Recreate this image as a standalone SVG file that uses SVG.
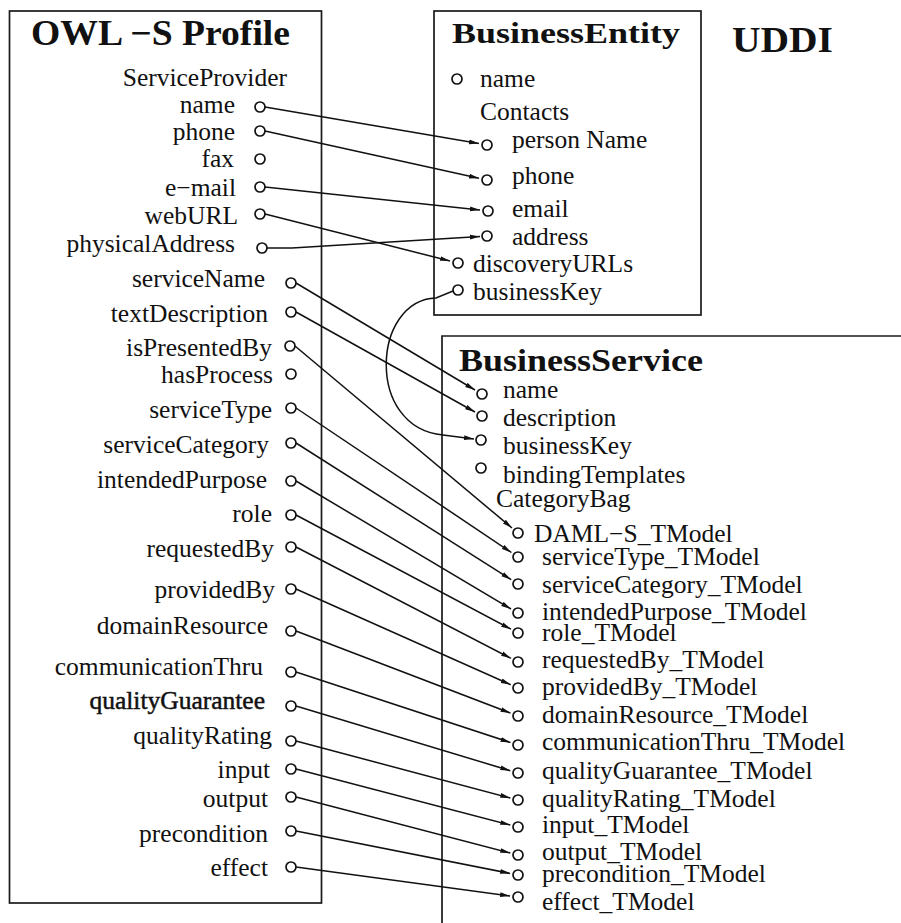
<svg xmlns="http://www.w3.org/2000/svg" width="901" height="923" viewBox="0 0 901 923">
  <style>
    .box { fill: none; stroke: #1a1a1a; stroke-width: 1.7; }
    .port { fill: #fff; stroke: #111; stroke-width: 1.7; }
    .lbl { font-family: "Liberation Serif", "Times New Roman", serif; font-size: 25.5px; fill: #111; }
    .end { text-anchor: end; }
    .title { font-family: "Liberation Serif", "Times New Roman", serif; font-weight: bold; fill: #111; }
    .link { fill: none; stroke: #111; stroke-width: 1.5; marker-end: url(#arrow); }
    .strong { stroke: #111; stroke-width: 0.5; }
  </style>
  <defs>
    <marker id="arrow" markerUnits="userSpaceOnUse" markerWidth="11" markerHeight="6" refX="10" refY="3" orient="auto">
      <path d="M0,0.6 L10,3 L0,5.4 z" fill="#111"/>
    </marker>
  </defs>
  <rect width="901" height="923" fill="#fff"/>

  <!-- OWL-S Profile -->
  <g id="owls-profile">
    <rect class="box" x="9.5" y="11" width="312" height="892"/>
    <text class="title" x="31" y="45" font-size="35" textLength="259" lengthAdjust="spacingAndGlyphs">OWL −S Profile</text>
    <text class="lbl end" x="287" y="86">ServiceProvider</text>
    <text class="lbl end" x="235" y="113">name</text>
    <text class="lbl end" x="235" y="140">phone</text>
    <text class="lbl end" x="234" y="167">fax</text>
    <text class="lbl end" x="236" y="196">e−mail</text>
    <text class="lbl end" x="238" y="224">webURL</text>
    <text class="lbl end" x="235" y="252">physicalAddress</text>
    <text class="lbl end" x="265" y="287">serviceName</text>
    <text class="lbl end" x="268" y="322">textDescription</text>
    <text class="lbl end" x="272" y="356">isPresentedBy</text>
    <text class="lbl end" x="273" y="383">hasProcess</text>
    <text class="lbl end" x="272" y="418">serviceType</text>
    <text class="lbl end" x="269" y="453">serviceCategory</text>
    <text class="lbl end" x="267" y="488">intendedPurpose</text>
    <text class="lbl end" x="272" y="522">role</text>
    <text class="lbl end" x="274" y="557">requestedBy</text>
    <text class="lbl end" x="275" y="598">providedBy</text>
    <text class="lbl end" x="268" y="634">domainResource</text>
    <text class="lbl end" x="263" y="675">communicationThru</text>
    <text class="lbl end strong" x="265" y="709">qualityGuarantee</text>
    <text class="lbl end" x="272" y="744">qualityRating</text>
    <text class="lbl end" x="270" y="778">input</text>
    <text class="lbl end" x="268" y="807">output</text>
    <text class="lbl end" x="268" y="842">precondition</text>
    <text class="lbl end" x="268" y="876">effect</text>
    <circle class="port" cx="260" cy="107" r="5"/>
    <circle class="port" cx="260" cy="131" r="5"/>
    <circle class="port" cx="260" cy="159" r="5"/>
    <circle class="port" cx="260" cy="187" r="5"/>
    <circle class="port" cx="260" cy="214" r="5"/>
    <circle class="port" cx="262" cy="248" r="5"/>
    <circle class="port" cx="291" cy="283" r="5"/>
    <circle class="port" cx="291" cy="312" r="5"/>
    <circle class="port" cx="290" cy="346" r="5"/>
    <circle class="port" cx="291" cy="374" r="5"/>
    <circle class="port" cx="291" cy="408" r="5"/>
    <circle class="port" cx="291" cy="443" r="5"/>
    <circle class="port" cx="291" cy="481" r="5"/>
    <circle class="port" cx="291" cy="515" r="5"/>
    <circle class="port" cx="291" cy="547" r="5"/>
    <circle class="port" cx="291" cy="589" r="5"/>
    <circle class="port" cx="291" cy="631" r="5"/>
    <circle class="port" cx="291" cy="672" r="5"/>
    <circle class="port" cx="291" cy="706" r="5"/>
    <circle class="port" cx="291" cy="741" r="5"/>
    <circle class="port" cx="291" cy="769" r="5"/>
    <circle class="port" cx="291" cy="797" r="5"/>
    <circle class="port" cx="291" cy="831" r="5"/>
    <circle class="port" cx="291" cy="867" r="5"/>
  </g>

  <!-- UDDI heading -->
  <g id="uddi-label">
    <text class="title" x="732" y="52" font-size="35" textLength="101" lengthAdjust="spacingAndGlyphs">UDDI</text>
  </g>

  <!-- BusinessEntity -->
  <g id="business-entity">
    <rect class="box" x="434" y="11" width="267" height="304"/>
    <text class="title" x="452" y="43" font-size="29" textLength="228" lengthAdjust="spacingAndGlyphs">BusinessEntity</text>
    <text class="lbl" x="480" y="87">name</text>
    <text class="lbl" x="480" y="120">Contacts</text>
    <text class="lbl" x="512" y="148">person Name</text>
    <text class="lbl" x="512" y="184">phone</text>
    <text class="lbl" x="512" y="217">email</text>
    <text class="lbl" x="512" y="245">address</text>
    <text class="lbl" x="473" y="272">discoveryURLs</text>
    <text class="lbl" x="473" y="300">businessKey</text>
    <circle class="port" cx="457" cy="79" r="5"/>
    <circle class="port" cx="487" cy="145" r="5"/>
    <circle class="port" cx="487" cy="180" r="5"/>
    <circle class="port" cx="488" cy="211" r="5"/>
    <circle class="port" cx="487" cy="236" r="5"/>
    <circle class="port" cx="458" cy="263" r="5"/>
    <circle class="port" cx="458" cy="290" r="5"/>
  </g>

  <!-- BusinessService (open to the right and bottom) -->
  <g id="business-service">
    <path class="box" d="M442,923 V336 H901"/>
    <text class="title" x="459" y="371" font-size="31" textLength="244" lengthAdjust="spacingAndGlyphs">BusinessService</text>
    <text class="lbl" x="503" y="398">name</text>
    <text class="lbl" x="503" y="426">description</text>
    <text class="lbl" x="503" y="454">businessKey</text>
    <text class="lbl" x="503" y="483">bindingTemplates</text>
    <text class="lbl" x="496" y="507">CategoryBag</text>
    <text class="lbl" x="534" y="542">DAML−S_TModel</text>
    <text class="lbl" x="542" y="565">serviceType_TModel</text>
    <text class="lbl" x="542" y="593">serviceCategory_TModel</text>
    <text class="lbl" x="542" y="620">intendedPurpose_TModel</text>
    <text class="lbl" x="542" y="641">role_TModel</text>
    <text class="lbl" x="542" y="668">requestedBy_TModel</text>
    <text class="lbl" x="542" y="695">providedBy_TModel</text>
    <text class="lbl" x="542" y="723">domainResource_TModel</text>
    <text class="lbl" x="542" y="750">communicationThru_TModel</text>
    <text class="lbl" x="542" y="779">qualityGuarantee_TModel</text>
    <text class="lbl" x="542" y="807">qualityRating_TModel</text>
    <text class="lbl" x="542" y="833">input_TModel</text>
    <text class="lbl" x="542" y="860">output_TModel</text>
    <text class="lbl" x="542" y="882">precondition_TModel</text>
    <text class="lbl" x="542" y="910">effect_TModel</text>
    <circle class="port" cx="482" cy="394" r="5"/>
    <circle class="port" cx="482" cy="416" r="5"/>
    <circle class="port" cx="481" cy="440" r="5"/>
    <circle class="port" cx="481" cy="468" r="5"/>
    <circle class="port" cx="518" cy="533" r="5"/>
    <circle class="port" cx="518" cy="557" r="5"/>
    <circle class="port" cx="518" cy="584" r="5"/>
    <circle class="port" cx="518" cy="613" r="5"/>
    <circle class="port" cx="518" cy="633" r="5"/>
    <circle class="port" cx="518" cy="662" r="5"/>
    <circle class="port" cx="518" cy="688" r="5"/>
    <circle class="port" cx="518" cy="716" r="5"/>
    <circle class="port" cx="518" cy="745" r="5"/>
    <circle class="port" cx="518" cy="773" r="5"/>
    <circle class="port" cx="518" cy="800" r="5"/>
    <circle class="port" cx="518" cy="827" r="5"/>
    <circle class="port" cx="518" cy="855" r="5"/>
    <circle class="port" cx="518" cy="875" r="5"/>
    <circle class="port" cx="518" cy="897" r="5"/>
  </g>

  <!-- mappings from profile properties to UDDI fields -->
  <g id="connectors">
    <path class="link" d="M265,107 L479,143.6"/>
    <path class="link" d="M265,131 L479,178.3"/>
    <path class="link" d="M265,187 L480,210"/>
    <path class="link" d="M265,214 L450,261"/>
    <path class="link" d="M267,248 L292,248 L480,236.5"/>
    <path class="link" d="M453,291 L436,298 C372,300 365,428 443,435 L474,439"/>
    <path class="link" d="M296,283 L475,390"/>
    <path class="link" d="M296,312 L475,412"/>
    <path class="link" d="M295,346 L512,528"/>
    <path class="link" d="M296,408 L511.4,552.5"/>
    <path class="link" d="M296,443 L511.2,579.7"/>
    <path class="link" d="M296,481 L511,609"/>
    <path class="link" d="M296,515 L511,629.2"/>
    <path class="link" d="M296,547 L511,658.3"/>
    <path class="link" d="M296,589 L510.7,684.7"/>
    <path class="link" d="M296,631 L510.5,713.1"/>
    <path class="link" d="M296,672 L510.4,742.5"/>
    <path class="link" d="M296,706 L510.3,770.7"/>
    <path class="link" d="M296,741 L510.3,798"/>
    <path class="link" d="M296,769 L510.3,825"/>
    <path class="link" d="M296,797 L510.3,853"/>
    <path class="link" d="M296,831 L510.1,873.4"/>
    <path class="link" d="M296,867 L510.1,896"/>
  </g>
</svg>
